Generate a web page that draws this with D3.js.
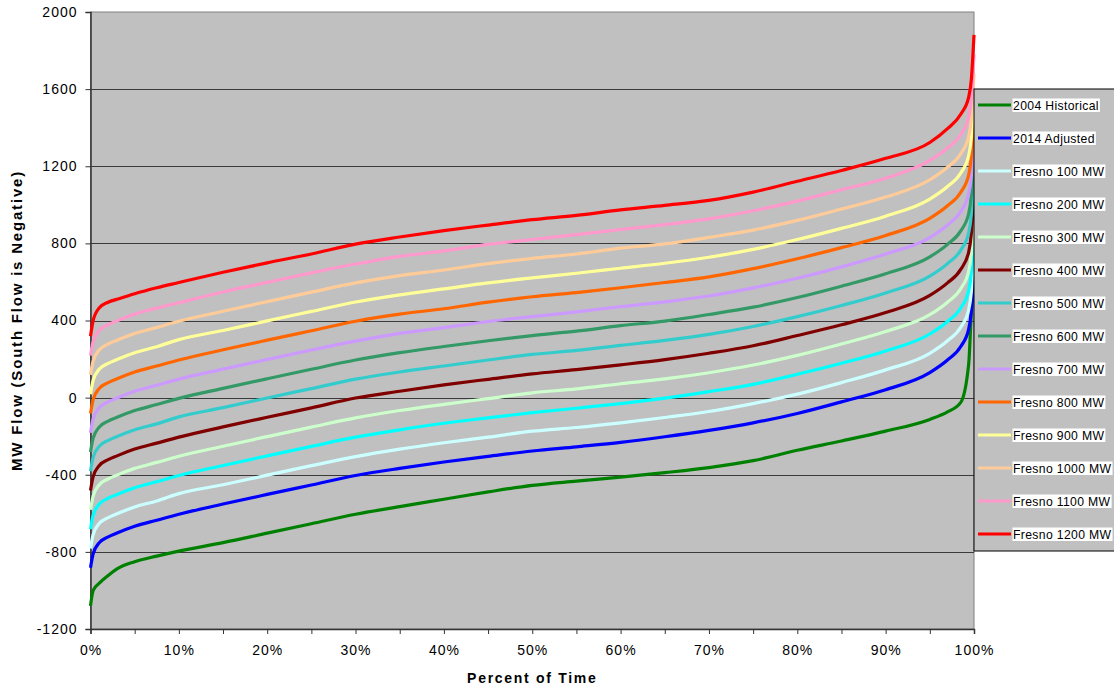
<!DOCTYPE html>
<html><head><meta charset="utf-8">
<script src="https://cdn.jsdelivr.net/npm/d3@7"></script>
<style>
html,body{margin:0;padding:0;background:#fff;}
svg{display:block;font-family:Arial,"Liberation Sans",sans-serif;}
</style></head>
<body>
<svg id="chart" width="1114" height="689"></svg>
<script>
// Percent of time (x)
const pct = [0,0.3,1,2,3,5,7.5,10,15,20,25,30,35,40,45,50,55,60,65,70,75,80,85,90,95,97,98.5,99.4,99.7,100];

const hist2004 = [-1080,-1000,-962,-922,-888,-851,-822,-796,-752,-703,-654,-605,-565,-527,-489,-455,-433,-412,-389,-363,-327,-273,-225,-174,-113,-74,-25,175,441,620];
const adj2014 = [-882,-810,-752,-722,-702,-667,-636,-605,-552,-502,-453,-404,-367,-334,-305,-277,-255,-232,-203,-170,-131,-82,-22,41,130,195,265,355,450,680];
const fresno100 = [-782,-710,-652,-622,-602,-567,-536,-498,-452,-402,-353,-306,-267,-234,-205,-174,-155,-131,-103,-72,-31,18,78,144,230,295,365,455,550,780];
const fresno200 = [-682,-610,-552,-522,-502,-467,-436,-404,-352,-302,-253,-205,-167,-133,-105,-78,-55,-31,-3,31,69,121,178,242,330,395,465,555,650,880];
const fresno300 = [-582,-510,-452,-422,-402,-367,-336,-304,-252,-202,-153,-105,-67,-35,-5,25,45,72,97,129,169,219,278,343,430,495,565,655,750,980];
const fresno400 = [-482,-410,-352,-322,-302,-267,-236,-205,-152,-102,-53,-2,33,66,95,123,145,170,197,230,269,322,378,441,530,595,665,755,850,1080];
const fresno500 = [-382,-310,-252,-222,-202,-167,-136,-100,-52,-2,47,96,133,164,195,224,245,271,297,328,369,420,478,543,630,695,765,855,950,1180];
const fresno600 = [-282,-210,-152,-122,-102,-67,-36,-4,48,98,147,195,233,265,295,322,345,373,397,431,469,519,578,642,730,795,865,955,1050,1280];
const fresno700 = [-182,-110,-52,-22,-2,33,64,96,148,198,247,293,333,363,395,420,445,472,497,527,569,619,678,745,830,895,965,1055,1150,1380];
const fresno800 = [-82,-10,48,78,98,133,164,195,248,298,347,396,433,461,495,523,545,570,597,626,669,720,778,841,930,995,1065,1155,1250,1480];
const fresno900 = [18,90,148,178,198,233,264,301,348,398,447,496,533,564,595,621,645,671,697,728,769,820,878,941,1030,1095,1165,1255,1350,1580];
const fresno1000 = [118,190,248,278,298,333,364,396,448,498,547,595,633,662,695,722,745,775,797,831,869,919,978,1040,1130,1195,1265,1355,1450,1680];
const fresno1100 = [218,290,348,378,398,433,464,492,548,598,647,693,733,761,795,820,845,872,897,927,969,1019,1078,1138,1230,1295,1365,1455,1550,1780];
const fresno1200 = [318,400,466,495,510,539,570,597,650,699,745,796,833,866,895,923,945,974,997,1023,1066,1122,1178,1241,1323,1395,1470,1559,1650,1881];

const seriesNames = ["2004 Historical","2014 Adjusted","Fresno 100 MW","Fresno 200 MW","Fresno 300 MW","Fresno 400 MW","Fresno 500 MW","Fresno 600 MW","Fresno 700 MW","Fresno 800 MW","Fresno 900 MW","Fresno 1000 MW","Fresno 1100 MW","Fresno 1200 MW"];
const seriesValues = [hist2004,adj2014,fresno100,fresno200,fresno300,fresno400,fresno500,fresno600,fresno700,fresno800,fresno900,fresno1000,fresno1100,fresno1200];
const seriesColors = ["#008000","#0000FF","#CCFFFF","#00FFFF","#CCFFCC","#800000","#33CCCC","#339966","#CC99FF","#FF6600","#FFFF99","#FFCC99","#FF99CC","#FF0000"];

const yTicks = [-1200,-800,-400,0,400,800,1200,1600,2000];
const xTicksMajor = [0,10,20,30,40,50,60,70,80,90,100];
const xTicksMinor = d3.range(0,101,5);

const svg = d3.select("#chart");
const L = 90.5, R = 974, T = 12, B = 629;
const x = d3.scaleLinear().domain([0,100]).range([L,R]);
const y = d3.scaleLinear().domain([-1200,2000]).range([B,T]);

// plot background
svg.append("rect").attr("x",L).attr("y",T).attr("width",R-L).attr("height",B-T)
  .attr("fill","#C0C0C0").attr("stroke","#808080").attr("stroke-width",1);

// gridlines
svg.append("g").selectAll("line").data(yTicks.filter(v=>v>-1200 && v<2000)).join("line")
  .attr("x1",L).attr("x2",R).attr("y1",d=>Math.round(y(d))+0.5).attr("y2",d=>Math.round(y(d))+0.5)
  .attr("stroke","#3a3a3a").attr("stroke-width",1);

// y axis
const yAxis = svg.append("g").attr("transform",`translate(${L},0)`)
  .call(d3.axisLeft(y).tickValues(yTicks).tickSize(5).tickPadding(8).tickFormat(d=>String(d)));
yAxis.select(".domain").attr("stroke","#333").attr("stroke-width",1.5);
yAxis.selectAll(".tick line").attr("stroke","#333");
yAxis.selectAll("text").attr("font-size","14px").attr("fill","#000").attr("letter-spacing","1px")
  .attr("font-family","Arial, 'Liberation Sans', sans-serif");

// x axis
const xAxis = svg.append("g").attr("transform",`translate(0,${B})`)
  .call(d3.axisBottom(x).tickValues(xTicksMinor).tickSize(5).tickPadding(11)
    .tickFormat(d=> xTicksMajor.includes(d) ? d+"%" : ""));
xAxis.select(".domain").attr("stroke","#333").attr("stroke-width",1.5);
xAxis.selectAll(".tick line").attr("stroke","#333");
xAxis.selectAll("text").attr("font-size","14px").attr("fill","#000").attr("letter-spacing","1px")
  .attr("font-family","Arial, 'Liberation Sans', sans-serif");

// lines
const line = d3.line().x((d,i)=>x(pct[i])).y(d=>y(d)).curve(d3.curveMonotoneX);
svg.append("g").selectAll("path").data(seriesValues).join("path")
  .attr("d",d=>line(d)).attr("fill","none")
  .attr("stroke",(d,i)=>seriesColors[i]).attr("stroke-width",3.2)
  .attr("stroke-linejoin","round");

// axis titles
svg.append("text").attr("x",(L+R)/2).attr("y",683).attr("text-anchor","middle")
  .attr("font-size","14px").attr("font-weight","bold").attr("letter-spacing","1.7px")
  .text("Percent of Time");
svg.append("text").attr("transform",`translate(22,${(T+B)/2}) rotate(-90)`).attr("text-anchor","middle")
  .attr("font-size","15px").attr("font-weight","bold").attr("letter-spacing","1.8px")
  .text("MW Flow (South Flow is Negative)");

// legend
const lg = svg.append("g");
lg.append("rect").attr("x",974).attr("y",89).attr("width",160).attr("height",462)
  .attr("fill","#C0C0C0").attr("stroke","#000").attr("stroke-width",1);
const items = lg.selectAll("g.item").data(seriesNames).join("g").attr("class","item")
  .attr("transform",(d,i)=>`translate(0,${105+i*33})`);
items.append("line").attr("x1",978).attr("x2",1011).attr("y1",0).attr("y2",0)
  .attr("stroke",(d,i)=>seriesColors[i]).attr("stroke-width",3);
items.each(function(d){
  const g = d3.select(this);
  const t = g.append("text").attr("x",1013).attr("y",4.5).attr("font-size","12.2px")
    .attr("letter-spacing","0.35px").text(d);
  const bb = t.node().getBBox();
  g.insert("rect","text").attr("x",1012.5).attr("y",-6.5).attr("width",Math.min(bb.width+1.5,1114-1012.5)).attr("height",13.5).attr("fill","#fff");
});
</script>
</body></html>
